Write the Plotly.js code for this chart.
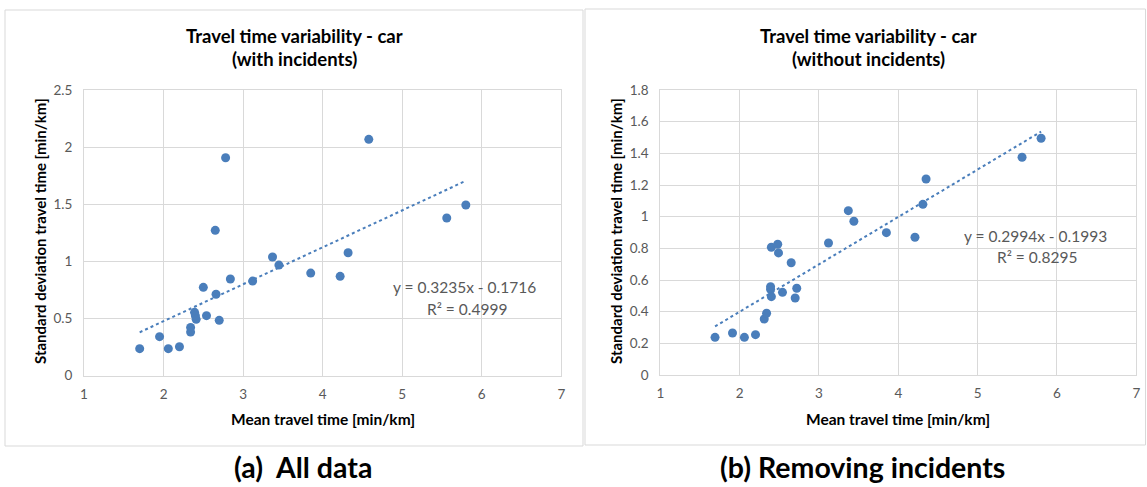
<!DOCTYPE html>
<html><head><meta charset="utf-8">
<script src="https://cdn.plot.ly/plotly-3.0.1.min.js"></script>
<style>html,body{margin:0;padding:0;background:#fff}#chart{width:1147px;height:487px}</style>
</head><body><div id="chart"></div>
<script>
// ---- Data ----
const meanWith = [1.70,1.95,2.06,2.20,2.34,2.34,2.39,2.40,2.41,2.50,2.54,2.66,2.65,2.70,2.78,2.84,3.12,3.37,3.45,3.85,4.22,4.32,4.58,5.56,5.80];
const sdWith   = [0.235,0.34,0.235,0.252,0.42,0.38,0.553,0.524,0.492,0.772,0.524,0.711,1.271,0.483,1.907,0.845,0.827,1.038,0.967,0.897,0.868,1.075,2.068,1.379,1.493];
const meanWithout = [1.69,1.91,2.06,2.20,2.31,2.34,2.39,2.39,2.40,2.40,2.48,2.49,2.54,2.65,2.70,2.72,3.12,3.37,3.44,3.85,4.21,4.31,4.35,5.56,5.80];
const sdWithout   = [0.238,0.265,0.238,0.255,0.354,0.39,0.558,0.541,0.495,0.807,0.826,0.771,0.522,0.709,0.486,0.548,0.834,1.038,0.971,0.899,0.87,1.078,1.238,1.375,1.495];
const trendSlope = [0.3235, 0.2994];
const trendIntercept = [-0.1716, -0.1993];
const trendLabels = ['y = 0.3235x - 0.1716', 'y = 0.2994x - 0.1993'];
const r2Labels = ['R² = 0.4999', 'R² = 0.8295'];
const titlesLine1 = ['Travel time variability - car', 'Travel time variability - car'];
const titlesLine2 = ['(with incidents)', '(without incidents)'];
const xTitle = 'Mean travel time [min/km]';
const yTitle = 'Standard deviation travel time [min/km]';
const captions = ['(a)  All data', '(b) Removing incidents'];

// ---- helpers ----
const W = 1147, H = 487;
const px = v => v / W;
const py = v => 1 - v / H;
const BLUE = '#4a7ebb';
const GRAY = '#595959';
const FONT = 'Lato, "Open Sans", sans-serif';

function trend(xs, i) {
  const lo = Math.min(...xs), hi = Math.max(...xs);
  return { x: [lo, hi], y: [lo, hi].map(v => trendSlope[i] * v + trendIntercept[i]) };
}
const t1 = trend(meanWith, 0), t2 = trend(meanWithout, 1);

const data = [
  { x: meanWith, y: sdWith, type: 'scatter', mode: 'markers', xaxis: 'x', yaxis: 'y',
    marker: { color: BLUE, size: 9 } },
  { x: t1.x, y: t1.y, type: 'scatter', mode: 'lines', xaxis: 'x', yaxis: 'y',
    line: { color: BLUE, width: 2, dash: 'dot' } },
  { x: meanWithout, y: sdWithout, type: 'scatter', mode: 'markers', xaxis: 'x2', yaxis: 'y2',
    marker: { color: BLUE, size: 9 } },
  { x: t2.x, y: t2.y, type: 'scatter', mode: 'lines', xaxis: 'x2', yaxis: 'y2',
    line: { color: BLUE, width: 2, dash: 'dot' } }
];

const axCommon = {
  showgrid: true, gridcolor: '#d9d9d9', gridwidth: 1, zeroline: false,
  showline: true, linecolor: '#d9d9d9', linewidth: 1, mirror: true,
  ticks: '', tickfont: { family: FONT, size: 13.5, color: GRAY }, fixedrange: true
};

const layout = {
  width: W, height: H, margin: { l: 0, r: 0, t: 0, b: 0 },
  paper_bgcolor: '#fff', plot_bgcolor: '#fff', showlegend: false,
  font: { family: FONT },
  xaxis: Object.assign({}, axCommon, { domain: [px(84), px(561.3)], range: [1, 7], dtick: 1, tick0: 1, anchor: 'y', ticklabelstandoff: 6 }),
  yaxis: Object.assign({}, axCommon, { domain: [py(375.5), py(90)], range: [0, 2.5], dtick: 0.5, anchor: 'x', ticklabelstandoff: 8 }),
  xaxis2: Object.assign({}, axCommon, { domain: [px(660.3), px(1136.3)], range: [1, 7], dtick: 1, tick0: 1, anchor: 'y2', ticklabelstandoff: 6 }),
  yaxis2: Object.assign({}, axCommon, { domain: [py(375), py(90)], range: [0, 1.8], dtick: 0.2, anchor: 'x2', ticklabelstandoff: 8 }),
  shapes: [
    { type: 'rect', xref: 'paper', yref: 'paper', x0: px(5), x1: px(583), y0: py(446), y1: py(10), line: { color: '#d9d9d9', width: 1 } },
    { type: 'rect', xref: 'paper', yref: 'paper', x0: px(585), x1: px(1145.5), y0: py(445), y1: py(9), line: { color: '#d9d9d9', width: 1 } }
  ],
  annotations: []
};

const A = layout.annotations;
const centers = [294, 868];
const plotCx = [322.6, 898.3];
const yTitleX = [40, 616];
const capX = [303, 862];
captions.forEach((c, i) => {
  A.push({ xref: 'paper', yref: 'paper', x: px(centers[i]), y: py(36), text: '<b>' + titlesLine1[i] + '</b>', showarrow: false, xanchor: 'center', yanchor: 'middle', font: { family: FONT, size: 18.5, color: '#000' } });
  A.push({ xref: 'paper', yref: 'paper', x: px(centers[i]), y: py(59), text: '<b>' + titlesLine2[i] + '</b>', showarrow: false, xanchor: 'center', yanchor: 'middle', font: { family: FONT, size: 18.5, color: '#000' } });
  A.push({ xref: 'paper', yref: 'paper', x: px(plotCx[i]), y: py(419), text: '<b>' + xTitle + '</b>', showarrow: false, xanchor: 'center', yanchor: 'middle', font: { family: FONT, size: 15.5, color: '#000' } });
  A.push({ xref: 'paper', yref: 'paper', x: px(yTitleX[i]), y: py(231), text: '<b>' + yTitle + '</b>', textangle: -90, showarrow: false, xanchor: 'center', yanchor: 'middle', font: { family: FONT, size: 15, color: '#000' } });
  A.push({ xref: 'paper', yref: 'paper', x: px(capX[i]), y: py(467), text: '<b>' + c + '</b>', showarrow: false, xanchor: 'center', yanchor: 'middle', font: { family: FONT, size: 28.5, color: '#000' } });
});
// trendline labels
A.push({ xref: 'paper', yref: 'paper', x: px(464), y: py(287), text: trendLabels[0], showarrow: false, xanchor: 'center', yanchor: 'middle', font: { family: FONT, size: 15.5, color: GRAY } });
A.push({ xref: 'paper', yref: 'paper', x: px(467), y: py(309), text: r2Labels[0], showarrow: false, xanchor: 'center', yanchor: 'middle', font: { family: FONT, size: 15.5, color: GRAY } });
A.push({ xref: 'paper', yref: 'paper', x: px(1035.5), y: py(236), text: trendLabels[1], showarrow: false, xanchor: 'center', yanchor: 'middle', font: { family: FONT, size: 15.5, color: GRAY } });
A.push({ xref: 'paper', yref: 'paper', x: px(1037), y: py(257), text: r2Labels[1], showarrow: false, xanchor: 'center', yanchor: 'middle', font: { family: FONT, size: 15.5, color: GRAY } });

Plotly.newPlot('chart', data, layout, { staticPlot: true, displayModeBar: false });
</script></body></html>
